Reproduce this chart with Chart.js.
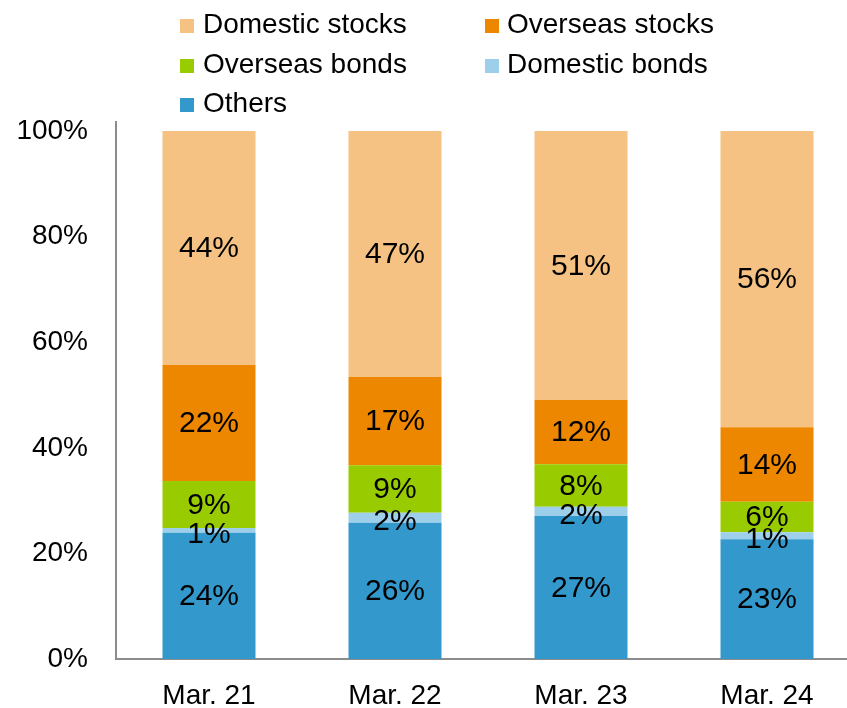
<!DOCTYPE html>
<html>
<head>
<meta charset="utf-8">
<script src="https://cdn.jsdelivr.net/npm/chart.js@4/dist/chart.umd.min.js"></script>
<style>
  html, body { margin: 0; padding: 0; background: #fff; width: 847px; height: 708px; overflow: hidden; }
  #wrap { position: relative; width: 847px; height: 708px; overflow: hidden; }
  #c { position: absolute; left: 0; top: 0; }
  .lg { position: absolute; font-family: "Liberation Sans", Arial, sans-serif; font-size: 28px; line-height: 32px; color: #000; white-space: nowrap; }
  .lg .sw { position: absolute; width: 14px; height: 14px; }
</style>
</head>
<body>
<div id="wrap">
  <canvas id="c" width="860" height="708"></canvas>
  <div id="legend"></div>
</div>
<script>
// ---- data ----
const categories = ['Mar. 21', 'Mar. 22', 'Mar. 23', 'Mar. 24'];
const others = [23.9, 25.8, 27.1, 22.7];
const domesticBonds = [0.9, 1.9, 1.75, 1.3];
const overseasBonds = [8.9, 9.0, 8.05, 5.8];
const overseasStocks = [22.0, 16.7, 12.15, 14.1];
const domesticStocks = [44.3, 46.6, 50.95, 56.1];
const yTicks = [0, 20, 40, 60, 80, 100];

const seriesNames = ['Others', 'Domestic bonds', 'Overseas bonds', 'Overseas stocks', 'Domestic stocks'];
const seriesValues = [others, domesticBonds, overseasBonds, overseasStocks, domesticStocks];
const seriesColors = ['#3399CC', '#9DCFEA', '#99CC00', '#EE8700', '#F5C283'];

// ---- HTML legend (two columns) ----
const legendOrder = ['Domestic stocks', 'Overseas stocks', 'Overseas bonds', 'Domestic bonds', 'Others'];
const legendEl = document.getElementById('legend');
legendOrder.forEach((name, i) => {
  const col = i % 2, row = Math.floor(i / 2);
  const idx = seriesNames.indexOf(name);
  const item = document.createElement('div');
  item.className = 'lg';
  item.style.left = (col === 0 ? 180 : 485) + 'px';
  item.style.top = (8 + row * 39.5) + 'px';
  const sw = document.createElement('span');
  sw.className = 'sw';
  sw.style.background = seriesColors[idx];
  sw.style.left = '0px';
  sw.style.top = '11px';
  const tx = document.createElement('span');
  tx.textContent = name;
  tx.style.marginLeft = (col === 0 ? 23 : 22) + 'px';
  item.appendChild(sw);
  item.appendChild(tx);
  legendEl.appendChild(item);
});

// ---- value labels plugin ----
const valueLabels = {
  id: 'valueLabels',
  afterDatasetsDraw(chart) {
    const ctx = chart.ctx;
    ctx.save();
    ctx.font = '30px "Liberation Sans", Arial, sans-serif';
    ctx.fillStyle = '#000';
    ctx.textAlign = 'center';
    ctx.textBaseline = 'middle';
    chart.data.datasets.forEach((ds, di) => {
      const meta = chart.getDatasetMeta(di);
      meta.data.forEach((bar, i) => {
        const v = ds.data[i];
        const h = Math.abs(bar.base - bar.y);
        const y = (bar.y + bar.base) / 2 + (h < 15 ? 4 : 1);
        ctx.fillText(Math.round(v) + '%', bar.x, y);
      });
    });
    ctx.restore();
  }
};

new Chart(document.getElementById('c'), {
  type: 'bar',
  data: {
    labels: categories,
    datasets: seriesNames.map((n, i) => ({
      label: n,
      data: seriesValues[i],
      backgroundColor: seriesColors[i],
      borderWidth: 0,
      barPercentage: 1,
      categoryPercentage: 0.5
    }))
  },
  options: {
    responsive: false,
    animation: false,
    devicePixelRatio: 1,
    layout: { padding: { top: 122, right: 0, bottom: 0, left: 0 } },
    plugins: { legend: { display: false }, tooltip: { enabled: false } },
    scales: {
      x: {
        stacked: true,
        grid: { display: false, drawTicks: false },
        border: { display: true, color: '#8C8C8C', width: 2 },
        ticks: {
          color: '#000',
          font: { family: '"Liberation Sans", Arial, sans-serif', size: 28 },
          padding: 20,
          maxRotation: 0
        },
        afterFit(scale) { scale.height = 49; }
      },
      y: {
        stacked: true,
        min: 0,
        max: 101.7,
        grid: { display: false, drawTicks: false },
        border: { display: true, color: '#8C8C8C', width: 2 },
        afterBuildTicks(scale) { scale.ticks = yTicks.map(v => ({ value: v })); },
        ticks: {
          color: '#000',
          font: { family: '"Liberation Sans", Arial, sans-serif', size: 28 },
          padding: 28,
          includeBounds: false,
          callback: v => v + '%'
        },
        afterFit(scale) { scale.width = 116; }
      }
    }
  },
  plugins: [valueLabels]
});
</script>
</body>
</html>
